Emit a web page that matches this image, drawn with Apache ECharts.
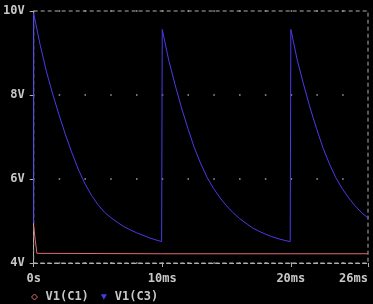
<!DOCTYPE html>
<html><head><meta charset="utf-8">
<script src="https://cdn.jsdelivr.net/npm/echarts@6/dist/echarts.min.js"></script>
<style>html,body{margin:0;padding:0;background:#000;}#c{width:373px;height:304px;}</style>
</head><body><div id="c"></div>
<script>
// time in ms, voltage in V
const c1Time = [0, 0.1, 0.25, 9.95, 10.0, 10.1, 19.95, 20.0, 20.1, 26];
const c1Volt = [4.9, 4.6, 4.23, 4.22, 4.26, 4.22, 4.22, 4.26, 4.22, 4.22];
const c3Time = [
  0, 0, 0.5, 1.0, 1.5, 2.0, 2.5, 3.0, 3.5, 4.0, 4.5, 5.0, 5.5, 6.0, 6.5, 7.0, 7.5, 8.0, 8.5, 9.0, 9.5, 9.95,
  10.0, 10.0, 10.5, 11.0, 11.5, 12.0, 12.5, 13.0, 13.5, 14.0, 14.5, 15.0, 15.5, 16.0, 16.5, 17.0, 17.5, 18.0, 18.5, 19.0, 19.5, 19.95,
  20.0, 20.0, 20.5, 21.0, 21.5, 22.0, 22.5, 23.0, 23.5, 24.0, 24.5, 25.0, 25.5, 26.0];
const c3Volt = [
  4.95, 9.94, 9.2, 8.55, 8.0, 7.5, 7.03, 6.6, 6.21, 5.88, 5.61, 5.39, 5.21, 5.08, 4.97, 4.87, 4.79, 4.72, 4.66, 4.6, 4.55, 4.51,
  4.51, 9.56, 8.83, 8.24, 7.69, 7.2, 6.74, 6.36, 6.03, 5.77, 5.55, 5.36, 5.2, 5.06, 4.95, 4.84, 4.76, 4.69, 4.63, 4.58, 4.54, 4.51,
  4.51, 9.56, 8.83, 8.24, 7.69, 7.2, 6.74, 6.36, 6.03, 5.77, 5.55, 5.36, 5.2, 5.07];
const seriesNames = ['V1(C1)', 'V1(C3)'];
const xTicks = [0, 10, 20, 26];

const red = '#e06a6a', blue = '#4a3ae8', fg = '#c8c8c8';
const font = {fontFamily: 'DejaVu Sans Mono', fontWeight: 'bold', fontSize: 12, color: fg};
const chart = echarts.init(document.getElementById('c'));
chart.setOption({
  animation: false,
  backgroundColor: '#000',
  grid: {left: 33, right: 5, top: 11, bottom: 41, show: true, borderColor: '#b0b0b0',
    borderWidth: 1, borderType: [4, 3], backgroundColor: 'transparent'},
  xAxis: {type: 'value', min: 0, max: 26, interval: 10,
    axisLine: {show: true, lineStyle: {color: '#b0b0b0', type: [4, 3]}},
    axisTick: {show: true, length: 4, inside: false, lineStyle: {color: '#b0b0b0'}},
    splitLine: {show: false},
    axisLabel: Object.assign({margin: 10, alignMaxLabel: 'right',
      formatter: v => xTicks.includes(v) ? (v === 0 ? '0s' : v + 'ms') : ''}, font)
  },
  yAxis: {type: 'value', min: 4, max: 10, interval: 2,
    axisLine: {show: true, lineStyle: {color: '#b0b0b0', type: [4, 3]}},
    axisTick: {show: true, length: 4, lineStyle: {color: '#b0b0b0'}},
    splitLine: {show: true, lineStyle: {color: '#a0a0a0', width: 1.5, type: [1.5, 24.27], dashOffset: 0.75}},
    axisLabel: Object.assign({margin: 9, formatter: v => v + 'V'}, font)
  },
  legend: {left: 26, top: 286, itemWidth: 6, itemHeight: 6, itemGap: 12,
    textStyle: Object.assign({padding: [0, 0, 0, 3]}, font),
    data: [
      {name: seriesNames[0], icon: 'diamond', itemStyle: {color: 'transparent', borderColor: red, borderWidth: 1}},
      {name: seriesNames[1], icon: 'path://M0,0L10,0L5,9Z', itemStyle: {color: blue}}
    ]
  },
  series: [
    {name: seriesNames[0], type: 'line', showSymbol: false, symbol: 'none', color: red,
      lineStyle: {width: 1, color: red}, data: c1Time.map((t, i) => [t, c1Volt[i]])},
    {name: seriesNames[1], type: 'line', showSymbol: false, symbol: 'none', color: blue, smooth: false,
      lineStyle: {width: 1, color: blue}, data: c3Time.map((t, i) => [t, c3Volt[i]])}
  ]
});
</script></body></html>
